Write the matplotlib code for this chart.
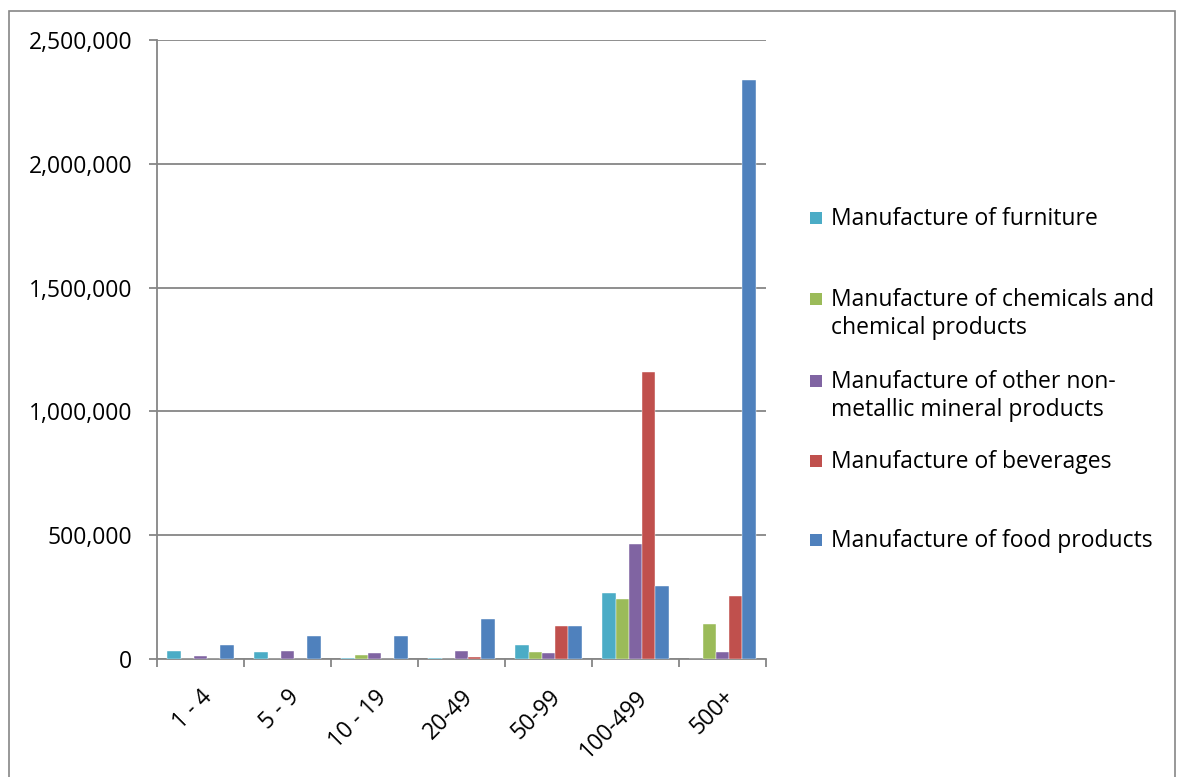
import matplotlib
matplotlib.use("Agg")
import matplotlib.pyplot as plt
import numpy as np
from matplotlib.patches import Rectangle
from matplotlib.ticker import FuncFormatter, FixedLocator

plt.rcParams['font.family'] = ['Open Sans', 'DejaVu Sans']

categories = ["1 - 4", "5 - 9", "10 - 19", "20-49", "50-99", "100-499", "500+"]
series_names = [
    "Manufacture of furniture",
    "Manufacture of chemicals and\nchemical products",
    "Manufacture of other non-\nmetallic mineral products",
    "Manufacture of beverages",
    "Manufacture of food products",
]
furniture = [33500, 28000, 4000, 4000, 56500, 268000, 0]
chemicals = [0, 0, 15000, 0, 28000, 242000, 142500]
non_metallic = [12000, 32000, 24000, 33500, 25500, 463000, 27000]
beverages = [0, 0, 0, 9000, 132000, 1158000, 253000]
food = [56500, 93000, 93000, 160000, 132000, 295000, 2338000]
colors = ["#4BACC6", "#9BBB59", "#8064A2", "#C0504D", "#4F81BD"]

series = [furniture, chemicals, non_metallic, beverages, food]

W, H = 1182, 777
fig = plt.figure(figsize=(W / 100, H / 100), dpi=100)

# outer chart border
fig.patches.append(Rectangle((9 / W, -0.05), (1175 - 9) / W, 1.05 - 11 / H,
                             transform=fig.transFigure, fill=False,
                             edgecolor="#868686", linewidth=1.2))

ax = fig.add_axes([157 / W, (H - 659) / H, (766 - 157) / W, (659 - 40) / H])

x = np.arange(len(categories))
bw = 0.153
offsets = (np.arange(5) - 2) * bw
for vals, off, c in zip(series, offsets, colors):
    ax.bar(x + off, vals, width=bw, color=c, edgecolor="white", linewidth=0.3, zorder=3)

ax.set_xlim(-0.5, len(categories) - 0.5)
ax.set_ylim(0, 2500000)
ax.set_yticks(np.arange(0, 2500001, 500000))
ax.yaxis.set_major_formatter(FuncFormatter(lambda v, p: f"{int(v):,}"))
ax.grid(axis="y", color="#868686", linewidth=1.3, zorder=0)

gray = "#868686"
for s in ["top", "right"]:
    ax.spines[s].set_visible(False)
for s in ["left", "bottom"]:
    ax.spines[s].set_color(gray)
    ax.spines[s].set_linewidth(1.3)

fs = 16.5
ax.tick_params(axis="y", direction="out", length=6, width=1.3, color=gray,
               labelsize=fs, pad=12)
ax.set_xticks(x)
ax.set_xticklabels(categories, rotation=45, ha="right", va="top",
                   rotation_mode="anchor", fontsize=fs)
ax.tick_params(axis="x", which="major", length=0, pad=19)
ax.xaxis.set_minor_locator(FixedLocator(np.arange(-0.5, len(categories), 1.0)))
ax.tick_params(axis="x", which="minor", direction="out", length=6, width=1.3, color=gray)

# legend drawn beside the plot
legend_y = [218, 299, 381, 461, 540]
for name, c, ly in zip(series_names, colors, legend_y):
    fig.patches.append(Rectangle((810 / W, (H - ly - 6) / H), 12 / W, 12 / H,
                                 transform=fig.transFigure, facecolor=c, edgecolor="none"))
    fig.text(831 / W, (H - ly + 11) / H, name, fontsize=fs, va="top", ha="left",
             linespacing=1.25)

fig.savefig("out.png", dpi=100)
